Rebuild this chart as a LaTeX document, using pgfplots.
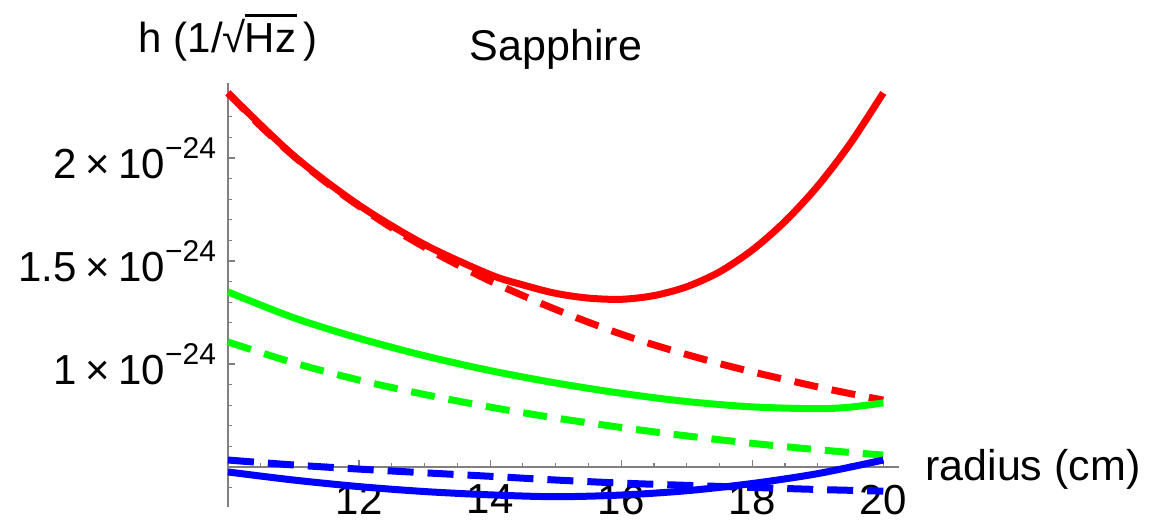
\documentclass[border=0pt]{standalone}
\usepackage{pgfplots}
\pgfplotsset{compat=1.18}
\usepackage{fontspec}
\setmainfont{Liberation Sans}
\definecolor{mred}{rgb}{1,0,0}
\definecolor{mgreen}{rgb}{0,1,0}
\definecolor{mblue}{rgb}{0,0,1}
\newcommand{\sci}[2]{#1\hspace{0.2em}×\hspace{0.2em}10\raisebox{0.48em}{\fontsize{15bp}{15bp}\selectfont −#2}}
\begin{document}
\begin{tikzpicture}
\begin{axis}[
  scale only axis,
  width=335.5bp, height=212bp,
  xmin=10, xmax=20.24,
  ymin=0.306, ymax=2.364,
  y coord trafo/.code={\pgfmathparse{#1-0.5}},
  y coord inv trafo/.code={\pgfmathparse{#1+0.5}},
  axis x line*=middle,
  axis y line*=left,
  axis line style={draw=gray, line width=0.6bp},
  tick style={draw=gray, line width=0.6bp},
  tick align=inside,
  major tick length=3.5bp,
  minor tick length=2bp,
  xtick={12,14,16,18,20},
  xticklabels={12,14,16,18,20},
  minor xtick={10.5,11,11.5,12.5,13,13.5,14.5,15,15.5,16.5,17,17.5,18.5,19,19.5},
  ytick={1,1.5,2},
  yticklabels={\sci{1}{24},\sci{1.5}{24},\sci{2}{24}},
  minor ytick={0.4,0.6,0.7,0.8,0.9,1.1,1.2,1.3,1.4,1.6,1.7,1.8,1.9,2.1,2.2,2.3},
  every tick label/.append style={font=\fontsize{21bp}{25bp}\selectfont, text=black},
  xticklabel style={yshift=-5.5bp},
  yticklabel style={xshift=-2.5bp},
  clip=false,
]
% red dashed
\addplot[mred, line width=3.5bp, smooth, dash pattern=on 12bp off 7bp] coordinates {
(10,2.316) (10.5,2.154) (11,2.010) (11.5,1.881) (12,1.766) (12.5,1.661) (13,1.567)
(13.5,1.482) (14,1.403) (14.5,1.332) (15,1.265) (15.5,1.203) (16,1.145) (16.5,1.093)
(17,1.046) (17.5,1.002) (18,0.962) (18.5,0.925) (19,0.889) (19.5,0.856) (20,0.825)};
% red solid
\addplot[mred, line width=3.5bp, smooth] coordinates {
(10,2.316) (11,2.012) (12,1.771) (13,1.580) (14,1.434) (14.5,1.384) (15,1.343)
(15.5,1.320) (16,1.314) (16.5,1.332) (17,1.375) (17.5,1.447) (18,1.553) (18.5,1.692)
(19,1.864) (19.5,2.072) (20,2.316)};
% green dashed
\addplot[mgreen, line width=3.5bp, smooth, dash pattern=on 12bp off 7bp] coordinates {
(10,1.107) (11,1.006) (12,0.922) (13,0.852) (14,0.791) (15,0.738) (16,0.692)
(17,0.651) (18,0.615) (19,0.584) (20,0.558)};
% green solid
\addplot[mgreen, line width=3.5bp, smooth] coordinates {
(10,1.350) (11,1.225) (12,1.125) (13,1.040) (14,0.968) (15,0.908) (16,0.858)
(17,0.818) (18,0.792) (19,0.783) (19.5,0.791) (20,0.811)};
% blue dashed
\addplot[mblue, line width=3.5bp, smooth, dash pattern=on 13bp off 7bp] coordinates {
(10,0.534) (11,0.510) (12,0.490) (13,0.472) (14,0.455) (15,0.437) (16,0.422)
(17,0.411) (18,0.401) (19,0.391) (20,0.383)};
% blue solid
\addplot[mblue, line width=3.5bp, smooth] coordinates {
(10,0.476) (11,0.437) (12,0.405) (13,0.381) (14,0.365) (15,0.356) (16,0.364)
(17,0.385) (18,0.420) (19,0.468) (20,0.534)};
\end{axis}
\node[anchor=base, inner sep=0, font=\fontsize{21bp}{25bp}\selectfont]
  at ([yshift=227bp]current axis.south west) {h (1/√\kern-0.02em\rlap{\rule[0.86em]{1.25em}{0.06em}}Hz\,)};
\node[anchor=base, inner sep=0, font=\fontsize{21.5bp}{25bp}\selectfont]
  at ([xshift=164bp,yshift=223bp]current axis.south west) {Sapphire};
\node[anchor=base west, inner sep=0, font=\fontsize{21.5bp}{25bp}\selectfont]
  at ([xshift=348.5bp,yshift=13.5bp]current axis.south west) {radius (cm)};
\pgfresetboundingbox
\path ([xshift=-114bp,yshift=-10bp]current axis.south west) rectangle ++(576bp,263.5bp);
\end{tikzpicture}
\end{document}
